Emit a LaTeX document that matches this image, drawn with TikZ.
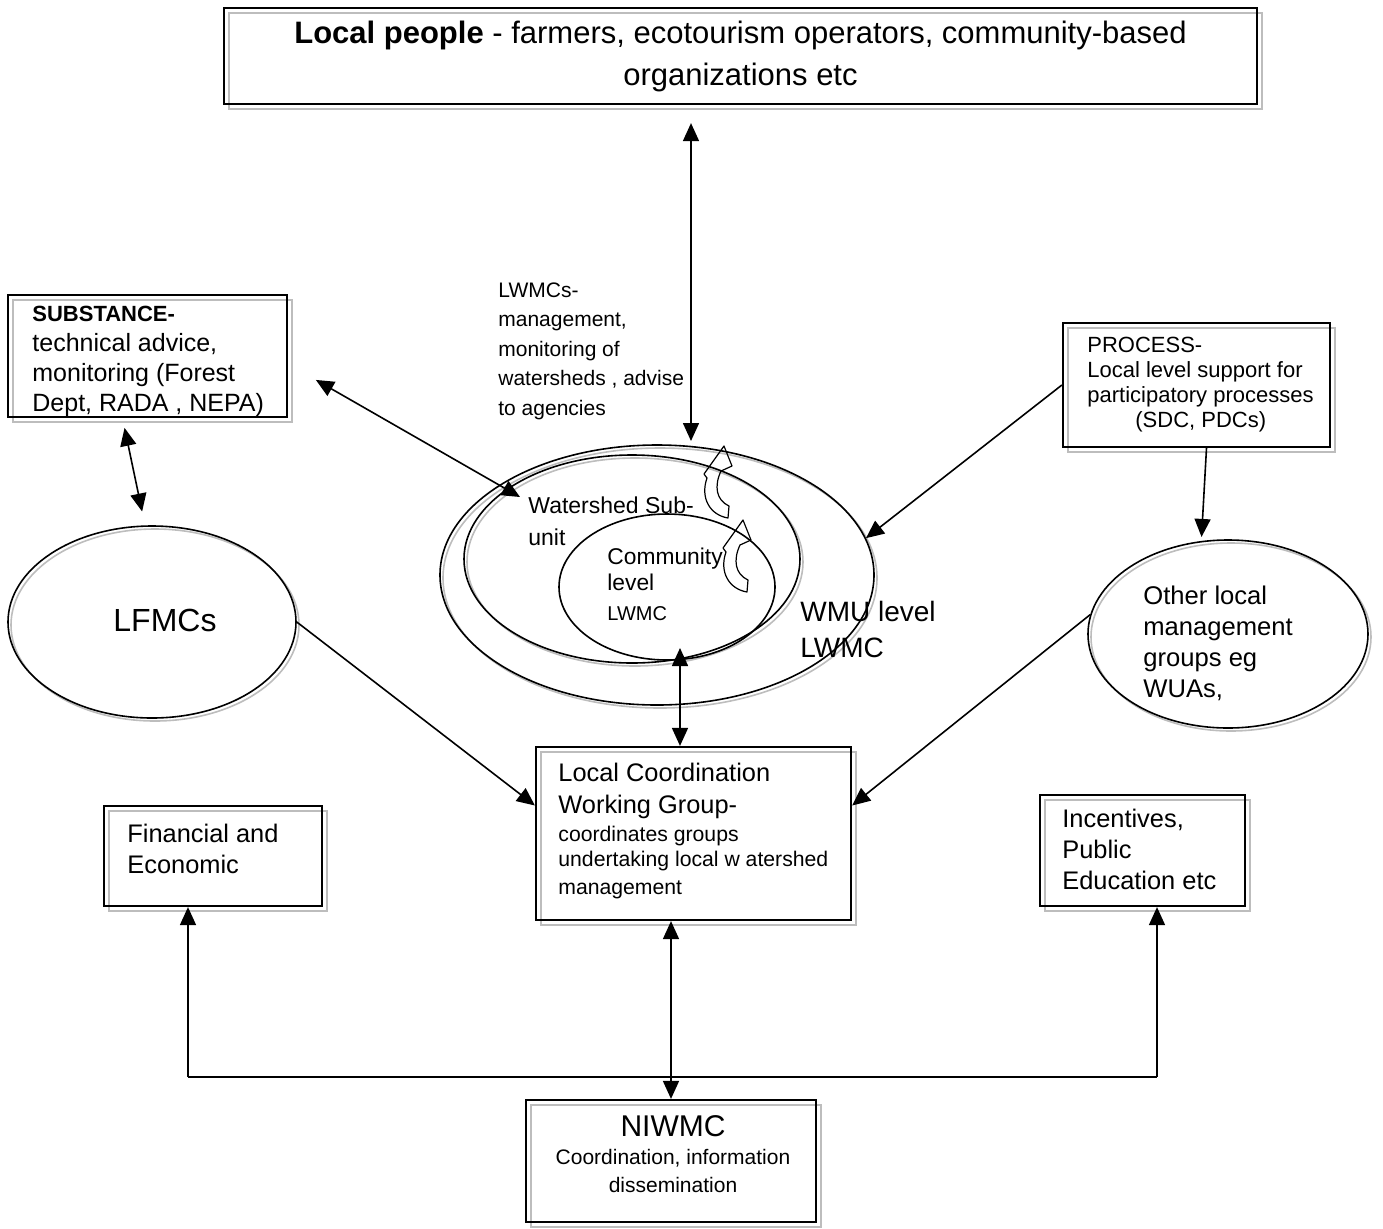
\documentclass[tikz,border=0pt]{standalone}
\usepackage{fontspec}
\setmainfont{Liberation Sans}
\usetikzlibrary{arrows.meta,shapes.geometric}
\definecolor{shade}{HTML}{BDBDBD}

\begin{document}
\begin{tikzpicture}[x=0.5pt,y=-0.5pt,
  box/.style={draw,rectangle,line width=1.1pt,inner sep=0pt,preaction={draw=shade,line width=0.9pt,transform canvas={shift={(2.5pt,-2.5pt)}}}},
  ring/.style={draw,ellipse,line width=0.8pt,inner sep=0pt,preaction={draw=shade,line width=0.8pt,transform canvas={shift={(1.5pt,-1.5pt)}}}},
  txt/.style={inner sep=0pt,align=left,anchor=north west},
  arr/.style={-{Triangle[length=9pt,width=8pt]},line width=0.8pt},
  dbl/.style={{Triangle[length=9pt,width=8pt]}-{Triangle[length=9pt,width=8pt]},line width=0.8pt},
  curl/.style={line width=0.6pt,line join=round}]
\useasboundingbox (0,0) rectangle (1383,1228);
% boxes
\node[box,minimum width=516.5pt,minimum height=48pt,align=center,font=\fontsize{15.5}{21}\selectfont] (top) at (740.5,56) {\textbf{Local people} - farmers, ecotourism operators, community-based\\organizations etc};
\node[box,minimum width=139.5pt,minimum height=61pt] (subst) at (147.5,356) {};
\node[box,minimum width=133.5pt,minimum height=62pt] (process) at (1196.5,385) {};
\node[box,minimum width=157.5pt,minimum height=86.5pt] (lcwg) at (693.5,833.5) {};
\node[box,minimum width=109pt,minimum height=50pt] (fin) at (213,856) {};
\node[box,minimum width=102.5pt,minimum height=55.5pt] (inc) at (1142.5,850.5) {};
\node[box,minimum width=145pt,minimum height=61pt] (niwmc) at (671,1161) {};
% ellipses
\node[ring,minimum width=144pt,minimum height=96pt] (lfmc) at (152,622) {};
\node[ring,minimum width=140pt,minimum height=94pt] (other) at (1228,634) {};
\node[ring,minimum width=217pt,minimum height=130pt] (outer) at (657,575) {};
\node[ring,minimum width=168pt,minimum height=104pt] (middle) at (632,559) {};
\node[draw,ellipse,line width=0.8pt,inner sep=0pt,minimum width=108pt,minimum height=73pt] (inner) at (667,587) {};
% curled arrows
\foreach \cx/\cy in {728/518,747/592}
  \draw[curl,shift={(\cx,\cy)}] (0,0) .. controls (-18,-3) and (-28,-20) .. (-21,-40) -- (-24,-44) -- (-4,-72) -- (4,-52) -- (-7,-47) .. controls (-14,-32) and (-12,-18) .. (1,-12) -- cycle;
% texts
\node[txt,font=\fontsize{12.5}{15}\selectfont] (substT) at (32,306) {{\fontsize{11}{13}\selectfont\bfseries SUBSTANCE-}\\technical advice,\\monitoring (Forest\\Dept, RADA , NEPA)};
\node[txt,font=\fontsize{10.5}{14.8}\selectfont] (lwmcT) at (498,282) {LWMCs-\\management,\\monitoring of\\watersheds , advise\\to agencies};
\node[txt,font=\fontsize{11}{12.5}\selectfont] (procT) at (1087,337) {PROCESS-\\Local level support for\\participatory processes\\\hspace*{24pt}(SDC, PDCs)};
\node[txt,font=\fontsize{12.8}{15.5}\selectfont] (otherT) at (1143,586) {Other local\\management\\groups eg\\WUAs,};
\node[inner sep=0pt,font=\fontsize{16}{19}\selectfont] (lfmcT) at (165,620) {LFMCs};
\node[txt,font=\fontsize{11.5}{16}\selectfont] (subT) at (528,496) {Watershed Sub-\\unit};
\node[txt,font=\fontsize{11.4}{13}\selectfont] (innT) at (607,548) {Community\\level\\[2pt]{\fontsize{10}{12}\selectfont LWMC}};
\node[txt,font=\fontsize{14}{18}\selectfont] (wmuT) at (800,601) {WMU level\\LWMC};
\node[txt,font=\fontsize{12.7}{16}\selectfont] (lcwgT) at (558,763) {Local Coordination\\Working Group-\\[-2pt]{\fontsize{10.6}{12.5}\selectfont coordinates groups}\\[-3.5pt]{\fontsize{10.6}{12.5}\selectfont undertaking local w atershed}\\[-2pt]{\fontsize{10.6}{12.5}\selectfont management}};
\node[txt,font=\fontsize{12.7}{15.5}\selectfont] (finT) at (127,824) {Financial and\\Economic};
\node[txt,font=\fontsize{12.7}{15.5}\selectfont] (incT) at (1062,809) {Incentives,\\Public\\Education etc};
\node[inner sep=0pt,align=center,anchor=north,font=\fontsize{10.5}{14}\selectfont] (niwT) at (673,1115) {{\fontsize{15}{16}\selectfont NIWMC}\\Coordination, information\\dissemination};
% connectors
\coordinate (tA) at (691,441);
\coordinate (subTip) at (520,497);
\coordinate (iT) at (680,648);
\coordinate (busL) at (188,1077);
\coordinate (busR) at (1157,1077);
\draw[dbl,shorten <=9pt] (tA |- top.south) -- (tA);
\draw[dbl,shorten <=5pt,shorten >=7pt] ([xshift=-12.5pt]subst.south) -- ([xshift=-3.5pt]lfmc.north);
\draw[dbl,shorten <=16pt] ([yshift=-4pt]subst.east) -- (subTip);
\draw[arr] (process.west) -- (outer.10);
\draw[arr,shorten >=2pt] ([xshift=5pt]process.south) -- (other.106);
\draw[arr] (lfmc.east) -- ([yshift=14pt]lcwg.west);
\draw[arr] (other.172) -- ([yshift=14pt]lcwg.east);
\draw[dbl] (iT |- lcwg.north) -- (iT);
\draw[dbl] (lcwg.south -| niwmc.north) -- (niwmc.north);
\draw[line width=0.8pt] (busL) -- (busR);
\draw[arr] (busL) -- (busL |- fin.south);
\draw[arr] (busR) -- (busR |- inc.south);
\end{tikzpicture}
\end{document}
